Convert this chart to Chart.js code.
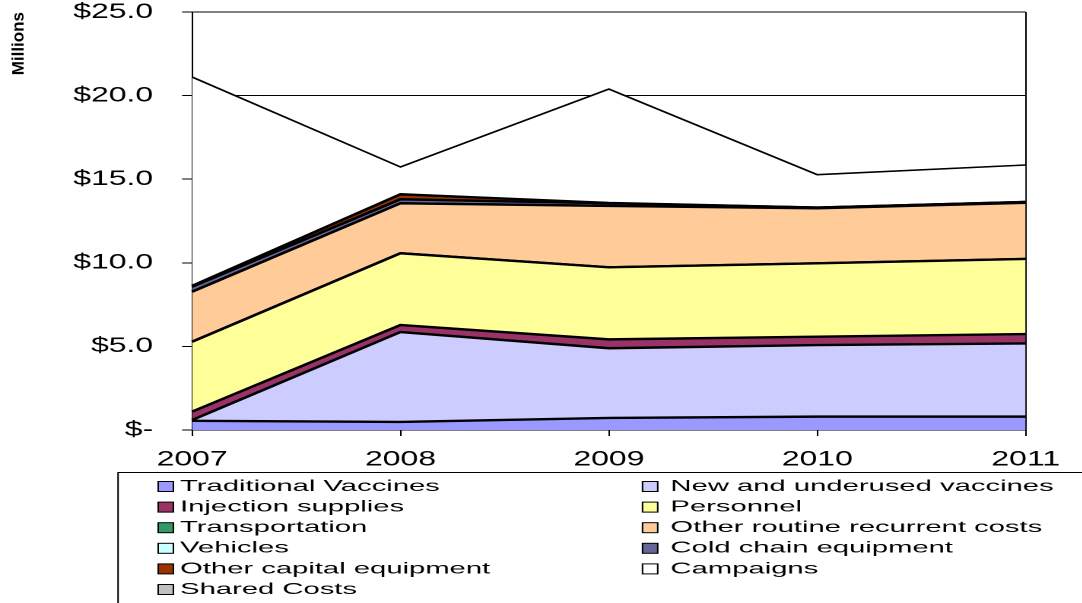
<!DOCTYPE html>
<html>
<head>
<meta charset="utf-8">
<title>Immunization programme costs 2007-2011</title>
<script src="https://cdn.jsdelivr.net/npm/chart.js@4.4.1/dist/chart.umd.min.js"></script>
<style>
    html, body { margin: 0; padding: 0; background: #fff; overflow: hidden; }
    /* the whole chart is drawn narrow and stretched sideways */
    #wrap {
        position: absolute; left: 0; top: 0;
        width: 711.8px; height: 603px;
        transform: scaleX(1.52); transform-origin: 0 0;
    }
</style>
</head>
<body>
<div id="wrap"><canvas id="costChart"></canvas></div>
<script>
// Years on the x axis
const years = ["2007", "2008", "2009", "2010", "2011"];

// Cost lines in US$ millions, stacked bottom to top
const traditionalVaccines = [0.55, 0.48, 0.72, 0.80, 0.80];
const newUnderusedVaccines = [0.05, 5.38, 4.17, 4.28, 4.38];
const injectionSupplies = [0.50, 0.42, 0.53, 0.50, 0.56];
const personnel = [4.18, 4.29, 4.31, 4.39, 4.49];
const transportation = [0, 0, 0, 0, 0];
const otherRoutineCosts = [2.99, 2.99, 3.67, 3.29, 3.36];
const vehicles = [0, 0, 0, 0, 0];
const coldChainEquipment = [0.30, 0.24, 0.16, 0.04, 0.05];
const otherCapitalEquipment = [0.05, 0.30, 0.02, 0, 0];
const campaigns = [12.49, 1.63, 6.81, 1.97, 2.21];
const sharedCosts = [0, 0, 0, 0, 0];

// Y axis ticks
const yTicks = [0, 5, 10, 15, 20, 25];

const STRETCH = 1.52;       // horizontal stretch of the wrapper
const LEGEND_STRETCH = 1.2; // legend text is a bit wider still

function layer(label, data, color, first, width) {
    return {
        label: label,
        data: data,
        backgroundColor: color,
        borderColor: "#000",
        borderWidth: width || 2.4,
        fill: first ? "origin" : "-1",
        pointRadius: 0,
        tension: 0
    };
}

// Two-column legend in a box below the chart, plus the "Millions" title
const costLegend = {
    id: "costLegend",
    afterDraw(chart) {
        const ctx = chart.ctx;
        const sets = chart.data.datasets;

        ctx.save();
        ctx.strokeStyle = "#000";
        ctx.lineWidth = 1;
        ctx.strokeRect(77.6, 472.5, 700, 200);

        const boxX = [104, 422.4];
        const textX = [118.4, 440.8];
        ctx.font = "16px 'Liberation Sans', Arial, sans-serif";
        ctx.textBaseline = "middle";
        ctx.textAlign = "left";
        sets.forEach(function (ds, i) {
            const col = i % 2;
            const row = Math.floor(i / 2);
            const y = 486.5 + row * 20.6;
            ctx.fillStyle = ds.backgroundColor;
            ctx.fillRect(boxX[col], y - 5, 10, 10);
            ctx.lineWidth = 1;
            ctx.strokeStyle = "#000";
            ctx.strokeRect(boxX[col], y - 5, 10, 10);
            ctx.save();
            ctx.translate(textX[col], y);
            ctx.scale(LEGEND_STRETCH, 1);
            ctx.fillStyle = "#000";
            ctx.fillText(ds.label, 0, 0);
            ctx.restore();
        });

        // vertical unit label at the top left
        ctx.save();
        ctx.translate(19 / STRETCH, 12);
        ctx.scale(1 / STRETCH, 1);
        ctx.rotate(-Math.PI / 2);
        ctx.font = "bold 17px 'Liberation Sans', Arial, sans-serif";
        ctx.textAlign = "right";
        ctx.textBaseline = "middle";
        ctx.fillStyle = "#000";
        ctx.fillText("Millions", 0, 0);
        ctx.restore();

        ctx.restore();
    }
};

const axisFont = { family: "'Liberation Sans', Arial, sans-serif", size: 21 };

new Chart(document.getElementById("costChart").getContext("2d"), {
    type: "line",
    data: {
        labels: years,
        datasets: [
            layer("Traditional Vaccines", traditionalVaccines, "#9999FF", true),
            layer("New and underused vaccines", newUnderusedVaccines, "#CCCCFF"),
            layer("Injection supplies", injectionSupplies, "#993366"),
            layer("Personnel", personnel, "#FFFF99"),
            layer("Transportation", transportation, "#339966"),
            layer("Other routine recurrent costs", otherRoutineCosts, "#FFCC99"),
            layer("Vehicles", vehicles, "#CCFFFF"),
            layer("Cold chain equipment", coldChainEquipment, "#666699"),
            layer("Other capital equipment", otherCapitalEquipment, "#993300"),
            layer("Campaigns", campaigns, "#FFFFFF", false, 1.6),
            layer("Shared Costs", sharedCosts, "#C0C0C0", false, 1)
        ]
    },
    options: {
        responsive: true,
        maintainAspectRatio: false,
        animation: false,
        devicePixelRatio: 2,
        layout: { padding: { top: 12, right: 37.5, left: 0, bottom: 0 } },
        plugins: {
            legend: { display: false },
            tooltip: { enabled: false }
        },
        scales: {
            x: {
                offset: false,
                grid: {
                    // only the right-hand frame line shows inside the plot
                    color: (c) => c.index === years.length - 1 ? "#000" : "rgba(0,0,0,0)",
                    tickColor: "#000",
                    tickLength: 6,
                    lineWidth: 1
                },
                border: { color: "#000", width: 1 },
                ticks: {
                    color: "#000",
                    font: axisFont,
                    padding: 11,
                    maxRotation: 0,
                    autoSkip: false
                },
                afterFit(scale) {
                    scale.height = 173;
                    scale.paddingTop = 0;
                    scale.paddingBottom = 0;
                }
            },
            y: {
                stacked: true,
                min: 0,
                max: 25,
                afterBuildTicks(scale) {
                    scale.ticks = yTicks.map(v => ({ value: v }));
                },
                grid: {
                    color: "#000",
                    tickColor: "#000",
                    tickLength: 6.6,
                    lineWidth: 1
                },
                border: { color: "#000", width: 1 },
                ticks: {
                    color: "#000",
                    font: axisFont,
                    padding: 19,
                    callback: (v) => v === 0 ? "$-" : "$" + v.toFixed(1)
                },
                afterFit(scale) {
                    scale.width = 126.3;
                    scale.paddingTop = 0;
                    scale.paddingBottom = 0;
                }
            }
        }
    },
    plugins: [costLegend]
});
</script>
</body>
</html>
